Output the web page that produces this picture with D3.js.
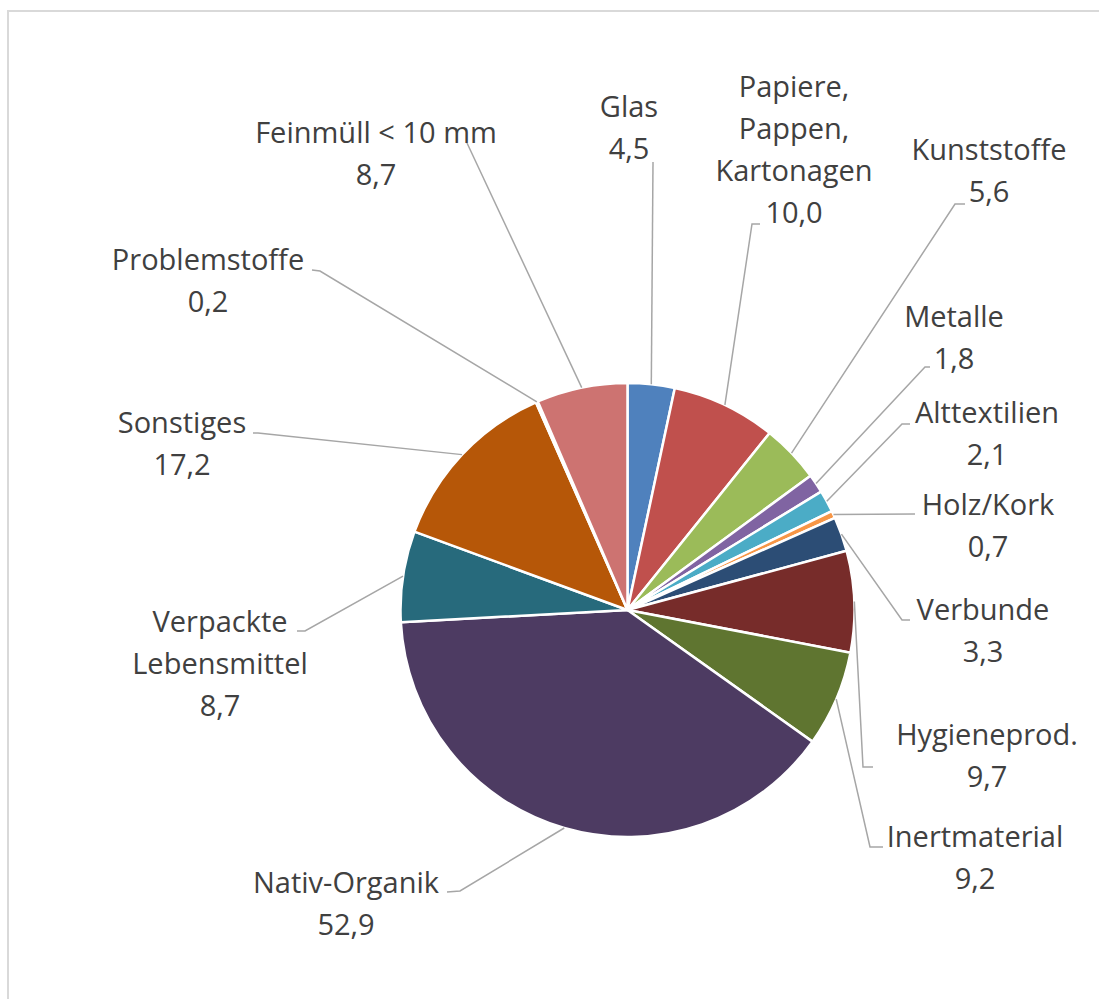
<!DOCTYPE html>
<html lang='de'>
<head>
	<meta charset='UTF-8'/>
	<title>D3: Pie Chart</title>
	<script src='https://cdnjs.cloudflare.com/ajax/libs/d3/7.8.5/d3.min.js'></script>
	<style>
		body {margin: 0; background: #FFF;}
		svg {display: block;}
		.label {font-family: 'Open Sans', sans-serif; font-size: 29px; fill: #404040;}
		.leader {fill: none; stroke: #A6A6A6; stroke-width: 1.5;}
	</style>
</head>
<body>
	<div class='graph'></div>
	<script>
		// data (clockwise from 12 o'clock)
		const categories = ['Glas', 'Papiere, Pappen, Kartonagen', 'Kunststoffe', 'Metalle', 'Alttextilien',
			'Holz/Kork', 'Verbunde', 'Hygieneprod.', 'Inertmaterial', 'Nativ-Organik',
			'Verpackte Lebensmittel', 'Sonstiges', 'Problemstoffe', 'Feinmüll < 10 mm'];
		const values = [4.5, 10.0, 5.6, 1.8, 2.1, 0.7, 3.3, 9.7, 9.2, 52.9, 8.7, 17.2, 0.2, 8.7];
		const colors = ['#4F81BD', '#C0504D', '#9BBB59', '#8064A2', '#4BACC6', '#F79646', '#2C4D75',
			'#772C2A', '#5F7530', '#4D3B62', '#276A7C', '#B65708', '#7E9ECE', '#CD7371'];

		// label layout: text lines, centre x, first baseline, leader points (after the slice edge)
		const labelLines = [['Glas'], ['Papiere,', 'Pappen,', 'Kartonagen'], ['Kunststoffe'], ['Metalle'],
			['Alttextilien'], ['Holz/Kork'], ['Verbunde'], ['Hygieneprod.'], ['Inertmaterial'],
			['Nativ-Organik'], ['Verpackte', 'Lebensmittel'], ['Sonstiges'], ['Problemstoffe'],
			['Feinmüll < 10 mm']];
		const labelPos = [[629, 117], [794, 97], [989, 160], [954, 327], [987, 423], [988, 515], [983, 620],
			[987, 745], [975, 847], [346, 893], [220, 632], [182, 433], [208, 270], [376, 143]];
		const leaderPts = [
			[[653, 162]],
			[[752, 224], [760, 224]],
			[[955, 204], [965, 204]],
			[[925, 367], [930, 367]],
			[[902, 424], [910, 424]],
			[[915, 514]],
			[[902, 620], [910, 620]],
			[[863, 767], [873, 767]],
			[[870, 847], [883, 847]],
			[[460, 891], [447, 892]],
			[[305, 631], [297, 631]],
			[[258, 433], [253, 433]],
			[[320, 271], [312, 270]],
			[[467, 143]]
		];

		const width = 1099, height = 999;
		const cx = 627.5, cy = 610, radius = 227, lineH = 42;
		const fmt = v => v.toFixed(1).replace('.', ',');

		const svg = d3.select('.graph')
			.append('svg')
			.attr('width', width)
			.attr('height', height);

		// chart frame
		svg.append('rect')
			.attr('x', 8).attr('y', 11)
			.attr('width', width + 20).attr('height', height + 20)
			.attr('fill', '#FFF')
			.attr('stroke', '#D9D9D9')
			.attr('stroke-width', 2);

		const pie = d3.pie().sort(null).value(d => d)(values);
		const arc = d3.arc().innerRadius(0).outerRadius(radius);
		const edge = d3.arc().innerRadius(radius).outerRadius(radius);

		const g = svg.append('g').attr('transform', 'translate(' + cx + ',' + cy + ')');

		g.selectAll('path.slice')
			.data(pie)
			.enter()
			.append('path')
			.attr('class', 'slice')
			.attr('d', arc)
			.attr('fill', (d, i) => colors[i])
			.attr('stroke', '#FFF')
			.attr('stroke-width', 2.5)
			.attr('stroke-linejoin', 'round');

		// leader lines
		svg.selectAll('path.leader')
			.data(pie)
			.enter()
			.append('path')
			.attr('class', 'leader')
			.attr('d', (d, i) => {
				const p = edge.centroid(d);
				return d3.line()([[cx + p[0], cy + p[1]]].concat(leaderPts[i]));
			});

		// labels
		const lbl = svg.selectAll('text.label')
			.data(pie)
			.enter()
			.append('text')
			.attr('class', 'label')
			.attr('text-anchor', 'middle')
			.attr('x', (d, i) => labelPos[i][0])
			.attr('y', (d, i) => labelPos[i][1]);

		lbl.each(function (d, i) {
			const t = d3.select(this);
			labelLines[i].concat([fmt(values[i])]).forEach((s, k) => {
				t.append('tspan')
					.attr('x', labelPos[i][0])
					.attr('dy', k === 0 ? 0 : lineH)
					.text(s);
			});
		});
	</script>
</body>
</html>
